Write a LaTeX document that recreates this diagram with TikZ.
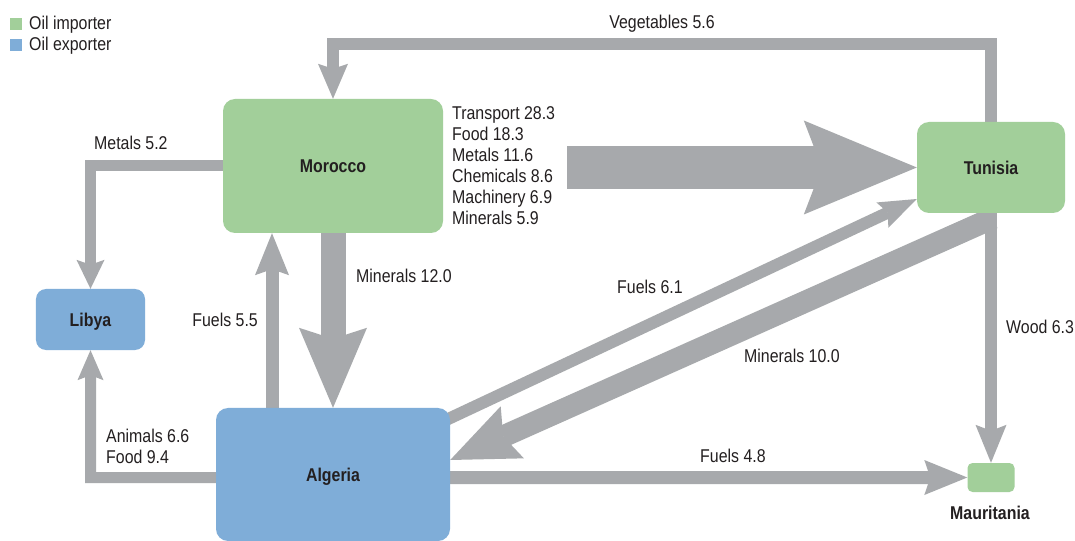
\documentclass[tikz,border=0pt]{standalone}
\usepackage{fontspec}
\setmainfont{Liberation Sans}[FakeStretch=0.86]
\usetikzlibrary{arrows.meta,backgrounds}
\definecolor{imp}{HTML}{A2CF9A}
\definecolor{expo}{HTML}{7FADD8}
\definecolor{flowgray}{HTML}{A7A9AC}
\definecolor{ink}{HTML}{231F20}
\tikzset{
  lbl/.style={font=\fontsize{18.5bp}{21bp}\selectfont, text=ink, inner sep=0pt},
  country/.style={rounded corners=12bp, inner sep=0pt, text depth=0pt,
    font=\fontsize{18.5bp}{21bp}\selectfont\bfseries, text=ink},
  flow/.style={draw=flowgray, line width=#1bp},
  headshape/.style n args={3}{-{Stealth[length=#1bp,width=#2bp,inset=#3bp,line width=0pt]}},
  keybox/.style={minimum size=11.5bp, inner sep=0pt}
}
\begin{document}
\begin{tikzpicture}[x=1bp,y=-1bp]
\useasboundingbox (0,0) rectangle (1075,541);

% countries
\node[country, fill=imp, minimum width=220bp, minimum height=134bp] (morocco) at (333,166) {Morocco};
\node[country, fill=imp, minimum width=148bp, minimum height=91bp] (tunisia) at (991,167.5) {Tunisia};
\node[country, fill=expo, rounded corners=10bp, minimum width=109bp, minimum height=61bp] (libya) at (90.5,319.5) {Libya};
\node[country, fill=expo, minimum width=234bp, minimum height=133bp] (algeria) at (333,474.5) {Algeria};
\node[country, fill=imp, rounded corners=5bp, minimum width=47bp, minimum height=29bp] (mauritania) at (991,477.5) {};
\node[country, anchor=base] (maurlabel) at (990,519) {Mauritania};

% legend
\node[keybox, fill=imp] (kimp) at (16,23.8) {};
\node[keybox, fill=expo] (kexp) at (16,45) {};
\node[lbl, anchor=base west] (limp) at (29,30) {Oil importer};
\node[lbl, anchor=base west] (lexp) at (29,51) {Oil exporter};

% helper coordinates
\coordinate (v1) at (991,44);
\coordinate (v2) at (333,44);
\coordinate (m1) at (90.5,166);
\coordinate (a1) at (90.5,477.5);
\coordinate (bigstart) at (567,167.5);
\coordinate (m10start) at (993,218);

\begin{pgfonlayer}{background}
\fill[white] (0,0) rectangle (1075,541);
\draw[flow=12, headshape={35}{30}{5}] (tunisia.north) -- (v1) -- (v2) -- (morocco.north);
\draw[flow=11, headshape={29}{28}{5}] (morocco.west) -- (m1) -- (libya.north);
\draw[flow=43, headshape={113}{94}{18}] (bigstart) -- (tunisia.west);
\draw[flow=25, headshape={80}{68}{11}] (morocco.south) -- (algeria.north);
\draw[flow=13, headshape={42}{34}{6}] ([xshift=-61bp]algeria.north) -- ([xshift=-61bp]morocco.south);
\draw[flow=12, headshape={38}{28}{6}] ([xshift=-8bp,yshift=-14bp]algeria.north east) -- ([yshift=-31.5bp]tunisia.west);
\draw[flow=22, headshape={68}{57}{10}] (m10start) -- ([yshift=14.5bp]algeria.east);
\draw[flow=12, headshape={38}{31}{6}] (tunisia.south) -- (mauritania.north);
\draw[flow=13, headshape={43}{35}{6}] ([yshift=-3bp]algeria.east) -- (mauritania.west);
\draw[flow=11, headshape={30}{26}{5}] ([yshift=-3bp]algeria.west) -- (a1) -- (libya.south);
\end{pgfonlayer}

% flow labels
\node[lbl, anchor=base] (lveg) at (662,29) {Vegetables 5.6};
\node[lbl, anchor=base west] (lmet) at (94,150) {Metals 5.2};
\node[lbl, anchor=north west, align=left] (lmor) at (452,106) {Transport 28.3\\Food 18.3\\Metals 11.6\\Chemicals 8.6\\Machinery 6.9\\Minerals 5.9};
\node[lbl, anchor=base west] (lmin12) at (356,283) {Minerals 12.0};
\node[lbl, anchor=base east] (lf55) at (258,327) {Fuels 5.5};
\node[lbl, anchor=base west] (lf61) at (617,294) {Fuels 6.1};
\node[lbl, anchor=base west] (lmin10) at (744,363) {Minerals 10.0};
\node[lbl, anchor=base west] (lwood) at (1006,334) {Wood 6.3};
\node[lbl, anchor=base west] (lf48) at (700,462) {Fuels 4.8};
\node[lbl, anchor=north west, align=left] (lani) at (106,428.5) {Animals 6.6\\Food 9.4};
\end{tikzpicture}
\end{document}
